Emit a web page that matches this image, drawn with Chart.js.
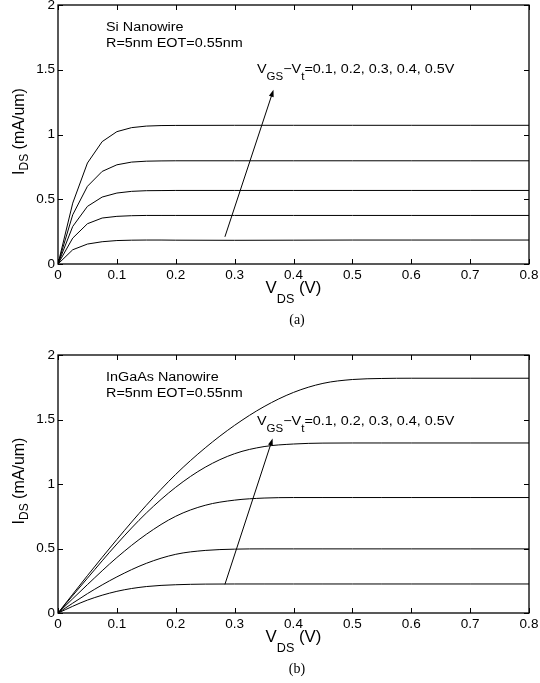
<!DOCTYPE html>
<html>
<head>
<meta charset="utf-8">
<script src="https://cdn.jsdelivr.net/npm/chart.js@4.4.1/dist/chart.umd.min.js"></script>
<style>
  body { margin: 0; background: #fff; }
  canvas { position: absolute; left: 0; }
</style>
</head>
<body>
<canvas id="siChart" width="540" height="340" style="top:0"></canvas>
<canvas id="ingaasChart" width="540" height="333" style="top:350px"></canvas>
<script>
// Axis ticks shared by both panels
const vdsTicks = [0, 0.1, 0.2, 0.3, 0.4, 0.5, 0.6, 0.7, 0.8];
const idsTicks = [0, 0.5, 1, 1.5, 2];

// (a) Si nanowire, I_DS (mA/um) vs V_DS (V), VGS-Vt = 0.1 .. 0.5 V
const siVds = [0, 0.025, 0.05, 0.075, 0.1, 0.125, 0.15, 0.175, 0.2, 0.3, 0.4, 0.5, 0.6, 0.7, 0.8];
const siVg01 = [0, 0.11, 0.154, 0.172, 0.181, 0.184, 0.185, 0.185, 0.184, 0.183, 0.184, 0.185, 0.185, 0.185, 0.185];
const siVg02 = [0, 0.20, 0.311, 0.355, 0.368, 0.373, 0.375, 0.375, 0.375, 0.375, 0.375, 0.375, 0.375, 0.375, 0.375];
const siVg03 = [0, 0.29, 0.445, 0.517, 0.548, 0.561, 0.566, 0.567, 0.568, 0.568, 0.568, 0.568, 0.568, 0.568, 0.568];
const siVg04 = [0, 0.38, 0.60, 0.715, 0.766, 0.787, 0.794, 0.796, 0.797, 0.797, 0.797, 0.797, 0.797, 0.797, 0.797];
const siVg05 = [0, 0.47, 0.78, 0.945, 1.022, 1.053, 1.065, 1.069, 1.070, 1.071, 1.071, 1.071, 1.071, 1.071, 1.071];
const siArrow = [[0.2835, 0.21], [0.366, 1.345]];

// (b) InGaAs nanowire
const gaVds = [0, 0.05, 0.1, 0.15, 0.2, 0.25, 0.3, 0.35, 0.4, 0.45, 0.5, 0.55, 0.6, 0.7, 0.8];
const gaVg01 = [0, 0.10, 0.168, 0.205, 0.219, 0.224, 0.225, 0.225, 0.225, 0.225, 0.225, 0.225, 0.225, 0.225, 0.225];
const gaVg02 = [0, 0.15, 0.28, 0.385, 0.455, 0.485, 0.495, 0.497, 0.497, 0.497, 0.497, 0.497, 0.497, 0.497, 0.497];
const gaVg03 = [0, 0.22, 0.43, 0.61, 0.75, 0.835, 0.875, 0.891, 0.895, 0.895, 0.895, 0.895, 0.895, 0.895, 0.895];
const gaVg04 = [0, 0.27, 0.535, 0.775, 0.975, 1.13, 1.235, 1.29, 1.31, 1.317, 1.318, 1.318, 1.318, 1.318, 1.318];
const gaVg05 = [0, 0.29, 0.57, 0.835, 1.075, 1.28, 1.455, 1.60, 1.71, 1.78, 1.81, 1.818, 1.82, 1.82, 1.82];
const gaArrow = [[0.2835, 0.222], [0.3645, 1.352]];

const SANS = '"Liberation Sans", Arial, sans-serif';
const SERIF = '"Liberation Serif", "Times New Roman", serif';

// draw text made of [text, isSubscript] parts
function rich(ctx, parts, x, y, o) {
  ctx.save();
  ctx.translate(x, y);
  if (o.rotate) ctx.rotate(-Math.PI / 2);
  ctx.scale(o.hs || 1, 1);
  const fMain = o.size + 'px ' + SANS, fSub = o.subSize + 'px ' + SANS;
  let w = 0;
  parts.forEach(p => { ctx.font = p[1] ? fSub : fMain; w += ctx.measureText(p[0]).width; });
  let cx = o.center ? -w / 2 : 0;
  ctx.fillStyle = '#000';
  ctx.textBaseline = 'alphabetic';
  ctx.textAlign = 'left';
  parts.forEach(p => {
    ctx.font = p[1] ? fSub : fMain;
    ctx.fillText(p[0], cx, p[1] ? o.subOff : 0);
    cx += ctx.measureText(p[0]).width;
  });
  ctx.restore();
}

function makeDecor(d) {
  return {
    id: 'decor',
    afterDraw(chart) {
      const { ctx, chartArea: a, scales: { x, y } } = chart;
      ctx.save();
      // frame and inward ticks on four sides
      ctx.strokeStyle = '#000';
      ctx.lineWidth = 1.3;
      ctx.strokeRect(a.left, a.top, a.right - a.left, a.bottom - a.top);
      ctx.lineWidth = 1;
      ctx.beginPath();
      x.ticks.forEach(t => {
        const px = Math.round(x.getPixelForValue(t.value)) + 0.5;
        ctx.moveTo(px, a.bottom); ctx.lineTo(px, a.bottom - 5);
        ctx.moveTo(px, a.top); ctx.lineTo(px, a.top + 5);
      });
      y.ticks.forEach(t => {
        const py = Math.round(y.getPixelForValue(t.value)) + 0.5;
        ctx.moveTo(a.left, py); ctx.lineTo(a.left + 5, py);
        ctx.moveTo(a.right, py); ctx.lineTo(a.right - 5, py);
      });
      ctx.stroke();

      // arrow
      const x0 = x.getPixelForValue(d.arrow[0][0]), y0 = y.getPixelForValue(d.arrow[0][1]);
      const x1 = x.getPixelForValue(d.arrow[1][0]), y1 = y.getPixelForValue(d.arrow[1][1]);
      const ang = Math.atan2(y1 - y0, x1 - x0);
      ctx.beginPath();
      ctx.moveTo(x0, y0);
      ctx.lineTo(x1 - 5 * Math.cos(ang), y1 - 5 * Math.sin(ang));
      ctx.stroke();
      ctx.fillStyle = '#000';
      ctx.beginPath();
      ctx.moveTo(x1, y1);
      ctx.lineTo(x1 - 7 * Math.cos(ang) + 2.5 * Math.sin(ang), y1 - 7 * Math.sin(ang) - 2.5 * Math.cos(ang));
      ctx.lineTo(x1 - 7 * Math.cos(ang) - 2.5 * Math.sin(ang), y1 - 7 * Math.sin(ang) + 2.5 * Math.cos(ang));
      ctx.closePath();
      ctx.fill();

      // text annotations
      const ann = { size: 12.5, subSize: 10, subOff: 7, hs: 1.15 };
      rich(ctx, [[d.title, false]], a.left + 48, a.top + 26, ann);
      rich(ctx, [['R=5nm EOT=0.55nm', false]], a.left + 48, a.top + 42, ann);
      rich(ctx, [['V', false], ['GS', true], ['\u2212V', false], ['t', true], ['=0.1, 0.2, 0.3, 0.4, 0.5V', false]],
        a.left + 199, a.top + d.annY, ann);

      // axis titles
      rich(ctx, [['V', false], ['DS', true], [' (V)', false]], (a.left + a.right) / 2, a.bottom + 28.5,
        { size: 16, subSize: 12, subOff: 10.5, hs: 1.05, center: true });
      rich(ctx, [['I', false], ['DS', true], [' (mA/um)', false]], 24, (a.top + a.bottom) / 2 - 3,
        { size: 16, subSize: 12, subOff: 4, hs: 1.0, center: true, rotate: true });

      // caption
      ctx.font = '14px ' + SERIF;
      ctx.fillStyle = '#000';
      ctx.textAlign = 'center';
      ctx.textBaseline = 'middle';
      ctx.fillText(d.caption, 297, a.bottom + 56.5);
      ctx.restore();
    }
  };
}

function ivChart(id, vds, curves, smooth, d) {
  return new Chart(document.getElementById(id), {
    type: 'line',
    data: {
      datasets: curves.map(c => ({
        data: vds.map((v, i) => ({ x: v, y: c[i] })),
        borderColor: '#000',
        borderWidth: 1,
        pointRadius: 0,
        tension: smooth ? 0.4 : 0,
        cubicInterpolationMode: smooth ? 'monotone' : 'default',
        fill: false
      }))
    },
    options: {
      responsive: false,
      animation: false,
      events: [],
      layout: { padding: { left: 0, right: 11, top: 5, bottom: 0 } },
      plugins: { legend: { display: false }, tooltip: { enabled: false } },
      scales: {
        x: {
          type: 'linear', min: 0, max: 0.8,
          afterBuildTicks: s => { s.ticks = vdsTicks.map(v => ({ value: v })); },
          ticks: { color: '#000', font: { family: SANS, size: 13.5 }, padding: 3, maxRotation: 0, autoSkip: false,
                   callback: v => String(+v.toFixed(2)) },
          grid: { display: false, drawTicks: false },
          border: { display: false },
          afterFit: s => { s.height = d.xAxisH; s.paddingLeft = 0; s.paddingRight = 0; }
        },
        y: {
          type: 'linear', min: 0, max: 2,
          afterBuildTicks: s => { s.ticks = idsTicks.map(v => ({ value: v })); },
          ticks: { color: '#000', font: { family: SANS, size: 13.5 }, padding: 3,
                   callback: v => String(+v.toFixed(2)) },
          grid: { display: false, drawTicks: false },
          border: { display: false },
          afterFit: s => { s.width = 58; s.paddingTop = 0; s.paddingBottom = 0; }
        }
      }
    },
    plugins: [makeDecor(d)]
  });
}

ivChart('siChart', siVds, [siVg01, siVg02, siVg03, siVg04, siVg05], false,
  { title: 'Si Nanowire', arrow: siArrow, annY: 67.5, caption: '(a)', xAxisH: 76 });
ivChart('ingaasChart', gaVds, [gaVg01, gaVg02, gaVg03, gaVg04, gaVg05], true,
  { title: 'InGaAs Nanowire', arrow: gaArrow, annY: 70, caption: '(b)', xAxisH: 70 });
</script>
</body>
</html>
